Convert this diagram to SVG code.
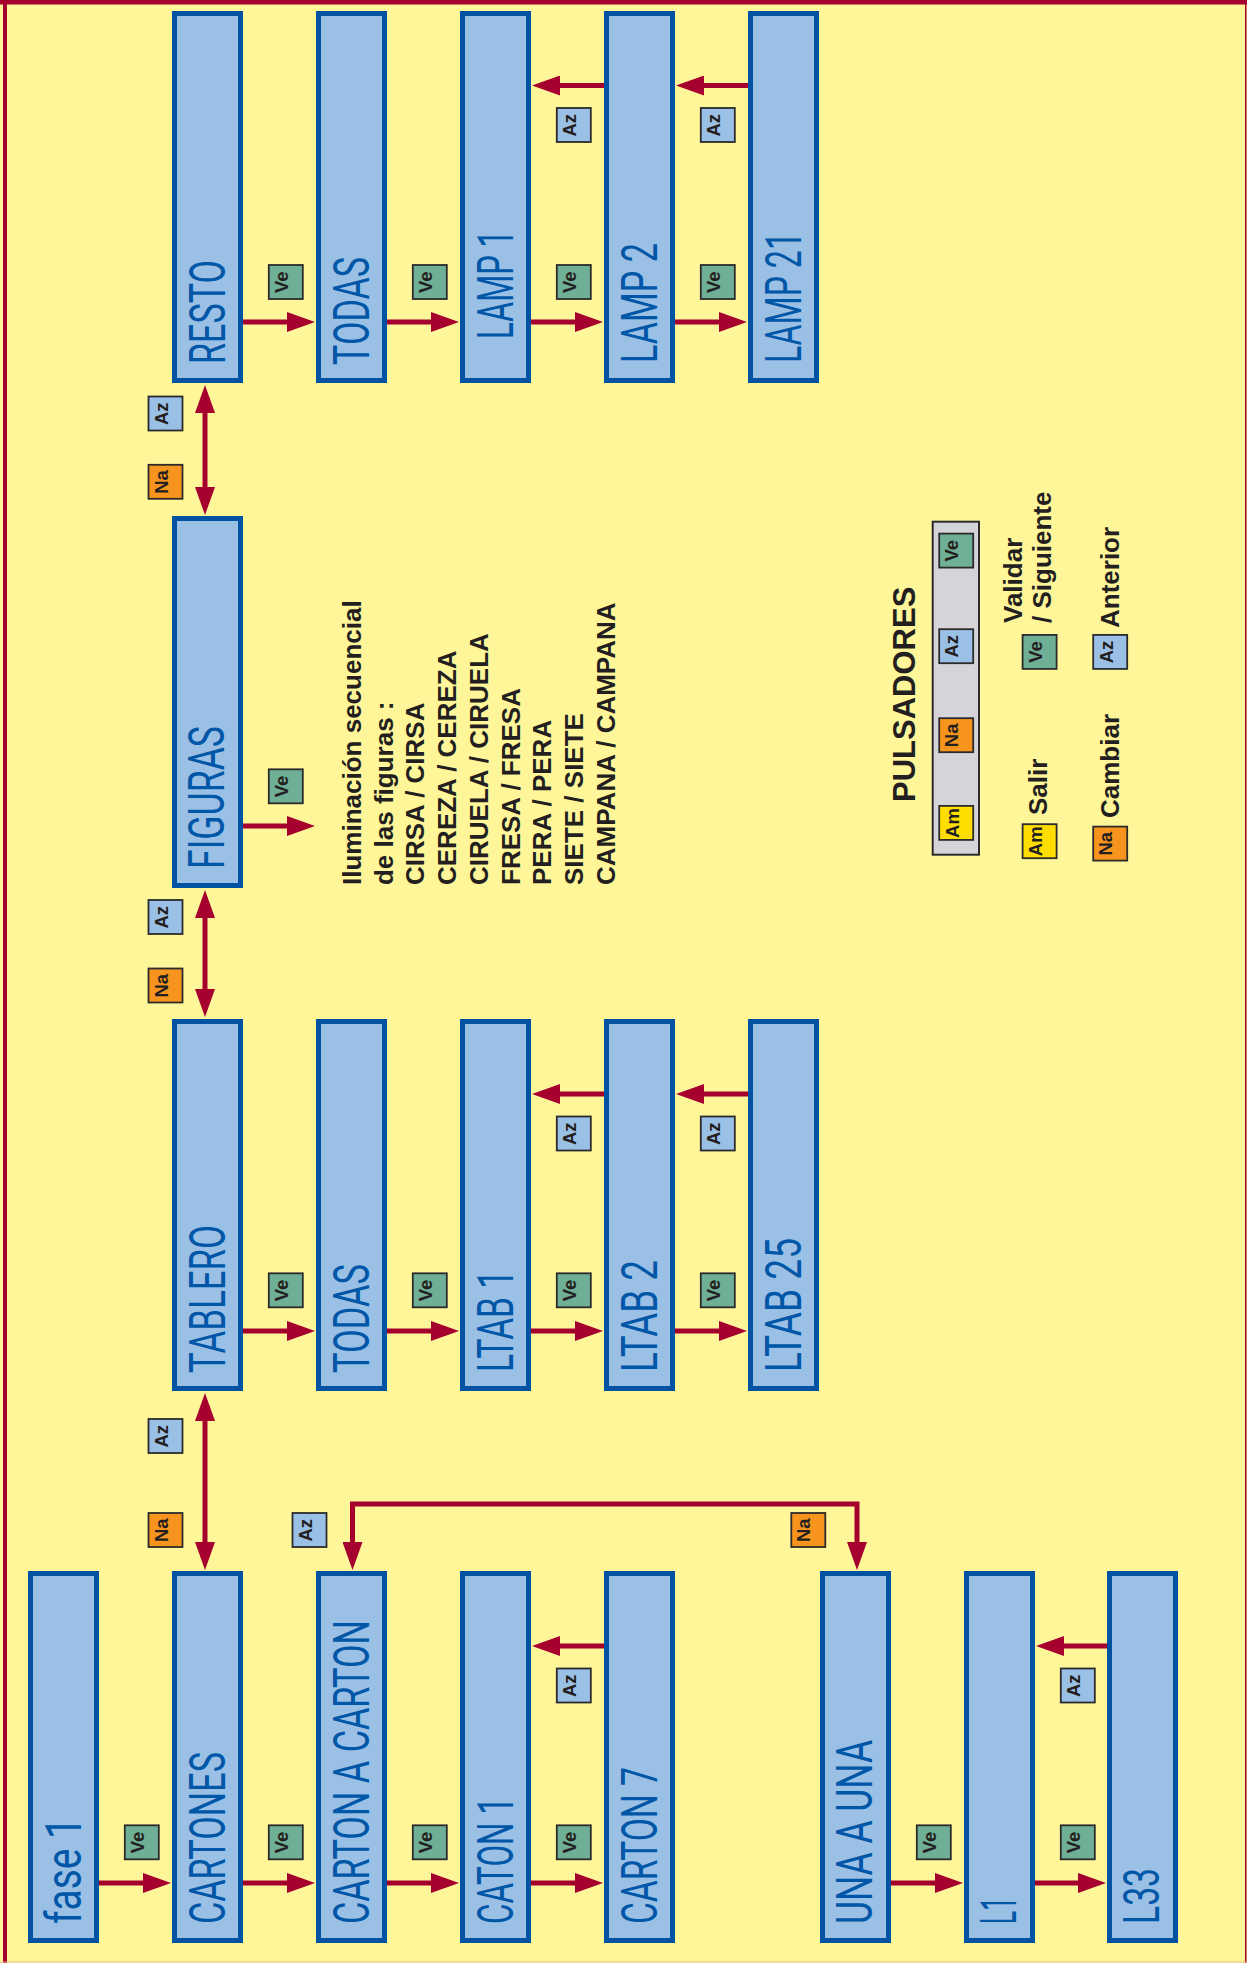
<svg xmlns="http://www.w3.org/2000/svg" width="1247" height="1963" viewBox="0 0 1247 1963">
<style>
.node{fill:#9BC0E6;stroke:#0052A3;stroke-width:5}
.nl{font-family:Roboto,"Liberation Sans",Arial,sans-serif;font-weight:400;font-size:50px;fill:#0057A8}
.con{fill:none;stroke:#A6002F;stroke-width:5}
.btn{stroke:#2B2B2B;stroke-width:1.8}
.ve{fill:#6FAF96}.az{fill:#9BC0E6}.na{fill:#F7941E}.am{fill:#FFDD00}
.bt{font-family:"Liberation Sans",Arial,sans-serif;font-weight:bold;font-size:18.5px;fill:#231F20;text-anchor:middle;baseline-shift:1.5px}
.tx{font-family:"Liberation Sans",Arial,sans-serif;font-weight:bold;font-size:26px;fill:#231F20}
</style>
<defs>
<marker id="ah" markerUnits="userSpaceOnUse" markerWidth="28" markerHeight="20" viewBox="0 -10 28 20" refX="2" refY="0" orient="auto-start-reverse">
<path d="M0,-10 L28,0 L0,10 z" fill="#A6002F"/>
</marker>
</defs>
<rect x="0" y="0" width="1247" height="1963" fill="#FFF69A"/>
<rect x="0" y="0" width="1247" height="4.5" fill="#A6002F"/>
<rect x="3" y="0" width="4" height="1963" fill="#A6002F"/>
<rect x="1245" y="0" width="1.5" height="1963" fill="#A6002F"/>
<rect x="0" y="1961.5" width="1247" height="1" fill="#F0B48A"/>

<!-- Nodes -->
<g id="fase1"><rect class="node" x="30.5" y="1573.5" width="66" height="367"/><text class="nl" x="81" y="1924" transform="rotate(-90 81 1924)" textLength="107" lengthAdjust="spacingAndGlyphs">fase 1</text></g>
<g id="cartones"><rect class="node" x="174.5" y="1573.5" width="66" height="367"/><text class="nl" x="225" y="1924" transform="rotate(-90 225 1924)" textLength="172" lengthAdjust="spacingAndGlyphs">CARTONES</text></g>
<g id="cartonacarton"><rect class="node" x="318.5" y="1573.5" width="66" height="367"/><text class="nl" x="369" y="1924" transform="rotate(-90 369 1924)" textLength="304" lengthAdjust="spacingAndGlyphs">CARTON A CARTON</text></g>
<g id="caton1"><rect class="node" x="462.5" y="1573.5" width="66" height="367"/><text class="nl" x="513" y="1924" transform="rotate(-90 513 1924)" textLength="127" lengthAdjust="spacingAndGlyphs">CATON 1</text></g>
<g id="carton7"><rect class="node" x="606.5" y="1573.5" width="66" height="367"/><text class="nl" x="657" y="1924" transform="rotate(-90 657 1924)" textLength="157" lengthAdjust="spacingAndGlyphs">CARTON 7</text></g>
<g id="unaauna"><rect class="node" x="822.5" y="1573.5" width="66" height="367"/><text class="nl" x="872" y="1924" transform="rotate(-90 872 1924)" textLength="184" lengthAdjust="spacingAndGlyphs">UNA A UNA</text></g>
<g id="l1"><rect class="node" x="966.5" y="1573.5" width="66" height="367"/><text class="nl" x="1016" y="1924" transform="rotate(-90 1016 1924)" textLength="27" lengthAdjust="spacingAndGlyphs">L1</text></g>
<g id="l33"><rect class="node" x="1109.5" y="1573.5" width="66" height="367"/><text class="nl" x="1159" y="1924" transform="rotate(-90 1159 1924)" textLength="56" lengthAdjust="spacingAndGlyphs">L33</text></g>

<g id="tablero"><rect class="node" x="174.5" y="1021.5" width="66" height="367"/><text class="nl" x="225" y="1373" transform="rotate(-90 225 1373)" textLength="148" lengthAdjust="spacingAndGlyphs">TABLERO</text></g>
<g id="todas2"><rect class="node" x="318.5" y="1021.5" width="66" height="367"/><text class="nl" x="369" y="1373" transform="rotate(-90 369 1373)" textLength="109" lengthAdjust="spacingAndGlyphs">TODAS</text></g>
<g id="ltab1"><rect class="node" x="462.5" y="1021.5" width="66" height="367"/><text class="nl" x="513" y="1372" transform="rotate(-90 513 1372)" textLength="102" lengthAdjust="spacingAndGlyphs">LTAB 1</text></g>
<g id="ltab2"><rect class="node" x="606.5" y="1021.5" width="66" height="367"/><text class="nl" x="657" y="1372" transform="rotate(-90 657 1372)" textLength="112" lengthAdjust="spacingAndGlyphs">LTAB 2</text></g>
<g id="ltab25"><rect class="node" x="750.5" y="1021.5" width="66" height="367"/><text class="nl" x="801" y="1372" transform="rotate(-90 801 1372)" textLength="134" lengthAdjust="spacingAndGlyphs">LTAB 25</text></g>

<g id="figuras"><rect class="node" x="174.5" y="518.5" width="66" height="367"/><text class="nl" x="224" y="869" transform="rotate(-90 224 869)" textLength="143" lengthAdjust="spacingAndGlyphs">FIGURAS</text></g>

<g id="resto"><rect class="node" x="174.5" y="13.5" width="66" height="367"/><text class="nl" x="225" y="364" transform="rotate(-90 225 364)" textLength="104" lengthAdjust="spacingAndGlyphs">RESTO</text></g>
<g id="todas1"><rect class="node" x="318.5" y="13.5" width="66" height="367"/><text class="nl" x="369" y="365" transform="rotate(-90 369 365)" textLength="108" lengthAdjust="spacingAndGlyphs">TODAS</text></g>
<g id="lamp1"><rect class="node" x="462.5" y="13.5" width="66" height="367"/><text class="nl" x="513" y="339" transform="rotate(-90 513 339)" textLength="109" lengthAdjust="spacingAndGlyphs">LAMP 1</text></g>
<g id="lamp2"><rect class="node" x="606.5" y="13.5" width="66" height="367"/><text class="nl" x="657" y="363" transform="rotate(-90 657 363)" textLength="120" lengthAdjust="spacingAndGlyphs">LAMP 2</text></g>
<g id="lamp21"><rect class="node" x="750.5" y="13.5" width="66" height="367"/><text class="nl" x="801" y="363" transform="rotate(-90 801 363)" textLength="131" lengthAdjust="spacingAndGlyphs">LAMP 21</text></g>

<!-- Connectors -->
<g id="connectors">
<g class="con" marker-end="url(#ah)">
<line x1="99" y1="1883" x2="145" y2="1883"/>
<line x1="243" y1="1883" x2="289" y2="1883"/>
<line x1="387" y1="1883" x2="433" y2="1883"/>
<line x1="531" y1="1883" x2="577" y2="1883"/>
<line x1="891" y1="1883" x2="937" y2="1883"/>
<line x1="1035" y1="1883" x2="1080" y2="1883"/>
<line x1="604" y1="1646" x2="558" y2="1646"/>
<line x1="1107" y1="1646" x2="1062" y2="1646"/>

<line x1="243" y1="1331" x2="289" y2="1331"/>
<line x1="387" y1="1331" x2="433" y2="1331"/>
<line x1="531" y1="1331" x2="577" y2="1331"/>
<line x1="675" y1="1331" x2="721" y2="1331"/>
<line x1="604" y1="1094" x2="558" y2="1094"/>
<line x1="748" y1="1094" x2="702" y2="1094"/>

<line x1="243" y1="826" x2="289" y2="826"/>

<line x1="243" y1="322" x2="289" y2="322"/>
<line x1="387" y1="322" x2="433" y2="322"/>
<line x1="531" y1="322" x2="577" y2="322"/>
<line x1="675" y1="322" x2="721" y2="322"/>
<line x1="604" y1="85.5" x2="558" y2="85.5"/>
<line x1="748" y1="85.5" x2="702" y2="85.5"/>
</g>
<g class="con" marker-start="url(#ah)" marker-end="url(#ah)">
<line x1="205" y1="411" x2="205" y2="489"/>
<line x1="205" y1="916" x2="205" y2="991"/>
<line x1="205" y1="1419" x2="205" y2="1544"/>
<path d="M352.5,1544 V1504 H857 V1544"/>
</g>
</g>

<!-- Button labels -->
<g id="labels">
<g id="ve-boxes">
<rect class="btn ve" x="124.8" y="1825.3" width="34" height="34"/><text class="bt" x="145.5" y="1842.5" transform="rotate(-90 145.5 1842.5)">Ve</text>
<rect class="btn ve" x="268.8" y="1825.3" width="34" height="34"/><text class="bt" x="289.5" y="1842.5" transform="rotate(-90 289.5 1842.5)">Ve</text>
<rect class="btn ve" x="412.8" y="1825.3" width="34" height="34"/><text class="bt" x="433.5" y="1842.5" transform="rotate(-90 433.5 1842.5)">Ve</text>
<rect class="btn ve" x="556.8" y="1825.3" width="34" height="34"/><text class="bt" x="577.5" y="1842.5" transform="rotate(-90 577.5 1842.5)">Ve</text>
<rect class="btn ve" x="916.8" y="1825.3" width="34" height="34"/><text class="bt" x="937.5" y="1842.5" transform="rotate(-90 937.5 1842.5)">Ve</text>
<rect class="btn ve" x="1060.8" y="1825.3" width="34" height="34"/><text class="bt" x="1081.5" y="1842.5" transform="rotate(-90 1081.5 1842.5)">Ve</text>

<rect class="btn ve" x="268.8" y="1273.3" width="34" height="34"/><text class="bt" x="289.5" y="1290.5" transform="rotate(-90 289.5 1290.5)">Ve</text>
<rect class="btn ve" x="412.8" y="1273.3" width="34" height="34"/><text class="bt" x="433.5" y="1290.5" transform="rotate(-90 433.5 1290.5)">Ve</text>
<rect class="btn ve" x="556.8" y="1273.3" width="34" height="34"/><text class="bt" x="577.5" y="1290.5" transform="rotate(-90 577.5 1290.5)">Ve</text>
<rect class="btn ve" x="700.8" y="1273.3" width="34" height="34"/><text class="bt" x="721.5" y="1290.5" transform="rotate(-90 721.5 1290.5)">Ve</text>

<rect class="btn ve" x="268.8" y="769.3" width="34" height="34"/><text class="bt" x="289.5" y="786.5" transform="rotate(-90 289.5 786.5)">Ve</text>

<rect class="btn ve" x="268.8" y="265" width="34" height="34"/><text class="bt" x="289.5" y="282.2" transform="rotate(-90 289.5 282.2)">Ve</text>
<rect class="btn ve" x="412.8" y="265" width="34" height="34"/><text class="bt" x="433.5" y="282.2" transform="rotate(-90 433.5 282.2)">Ve</text>
<rect class="btn ve" x="556.8" y="265" width="34" height="34"/><text class="bt" x="577.5" y="282.2" transform="rotate(-90 577.5 282.2)">Ve</text>
<rect class="btn ve" x="700.8" y="265" width="34" height="34"/><text class="bt" x="721.5" y="282.2" transform="rotate(-90 721.5 282.2)">Ve</text>
</g>
<g id="az-boxes">
<rect class="btn az" x="556.8" y="1668.5" width="34" height="34"/><text class="bt" x="577.5" y="1685.7" transform="rotate(-90 577.5 1685.7)">Az</text>
<rect class="btn az" x="1060.8" y="1668.5" width="34" height="34"/><text class="bt" x="1081.5" y="1685.7" transform="rotate(-90 1081.5 1685.7)">Az</text>
<rect class="btn az" x="556.8" y="1116.5" width="34" height="34"/><text class="bt" x="577.5" y="1133.7" transform="rotate(-90 577.5 1133.7)">Az</text>
<rect class="btn az" x="700.8" y="1116.5" width="34" height="34"/><text class="bt" x="721.5" y="1133.7" transform="rotate(-90 721.5 1133.7)">Az</text>
<rect class="btn az" x="556.8" y="108" width="34" height="34"/><text class="bt" x="577.5" y="125.2" transform="rotate(-90 577.5 125.2)">Az</text>
<rect class="btn az" x="700.8" y="108" width="34" height="34"/><text class="bt" x="721.5" y="125.2" transform="rotate(-90 721.5 125.2)">Az</text>

<rect class="btn az" x="148.5" y="396.5" width="34" height="34"/><text class="bt" x="169.2" y="413.7" transform="rotate(-90 169.2 413.7)">Az</text>
<rect class="btn az" x="148.5" y="900" width="34" height="34"/><text class="bt" x="169.2" y="917.2" transform="rotate(-90 169.2 917.2)">Az</text>
<rect class="btn az" x="148.5" y="1419" width="34" height="34"/><text class="bt" x="169.2" y="1436.2" transform="rotate(-90 169.2 1436.2)">Az</text>
<rect class="btn az" x="292.5" y="1513" width="34" height="34"/><text class="bt" x="313.2" y="1530.2" transform="rotate(-90 313.2 1530.2)">Az</text>
</g>
<g id="na-boxes">
<rect class="btn na" x="148.5" y="464.8" width="34" height="34"/><text class="bt" x="169.2" y="482" transform="rotate(-90 169.2 482)">Na</text>
<rect class="btn na" x="148.5" y="968.5" width="34" height="34"/><text class="bt" x="169.2" y="985.7" transform="rotate(-90 169.2 985.7)">Na</text>
<rect class="btn na" x="148.5" y="1513" width="34" height="34"/><text class="bt" x="169.2" y="1530.2" transform="rotate(-90 169.2 1530.2)">Na</text>
<rect class="btn na" x="791.3" y="1513" width="34" height="34"/><text class="bt" x="812" y="1530.2" transform="rotate(-90 812 1530.2)">Na</text>
</g>
</g>

<!-- Figuras description -->
<g id="figuras-text" class="tx">
<text x="361" y="885" transform="rotate(-90 361 885)">Iluminación secuencial</text>
<text x="392.7" y="885" transform="rotate(-90 392.7 885)">de las figuras :</text>
<text x="424.4" y="885" transform="rotate(-90 424.4 885)">CIRSA / CIRSA</text>
<text x="456.1" y="885" transform="rotate(-90 456.1 885)">CEREZA / CEREZA</text>
<text x="487.8" y="885" transform="rotate(-90 487.8 885)">CIRUELA / CIRUELA</text>
<text x="519.5" y="885" transform="rotate(-90 519.5 885)">FRESA / FRESA</text>
<text x="551.2" y="885" transform="rotate(-90 551.2 885)">PERA / PERA</text>
<text x="582.9" y="885" transform="rotate(-90 582.9 885)">SIETE / SIETE</text>
<text x="614.6" y="885" transform="rotate(-90 614.6 885)">CAMPANA / CAMPANA</text>
</g>

<!-- Legend -->
<g id="legend">
<text class="tx" style="font-size:31px" x="915" y="802" transform="rotate(-90 915 802)">PULSADORES</text>
<rect x="932.7" y="521.7" width="46.3" height="333" fill="#D5D5D9" stroke="#2B2B2B" stroke-width="2"/>
<rect class="btn ve" x="939.2" y="533.6" width="34" height="34"/><text class="bt" x="960" y="550.7" transform="rotate(-90 960 550.7)">Ve</text>
<rect class="btn az" x="939.2" y="629.2" width="34" height="34"/><text class="bt" x="960" y="646.3" transform="rotate(-90 960 646.3)">Az</text>
<rect class="btn na" x="939.2" y="718.2" width="34" height="34"/><text class="bt" x="960" y="735.3" transform="rotate(-90 960 735.3)">Na</text>
<rect class="btn am" x="939.2" y="805.9" width="34" height="34"/><text class="bt" x="960" y="823" transform="rotate(-90 960 823)">Am</text>

<rect class="btn ve" x="1022.6" y="634.9" width="34" height="34"/><text class="bt" x="1043.4" y="652" transform="rotate(-90 1043.4 652)">Ve</text>
<rect class="btn az" x="1093.2" y="634.9" width="34" height="34"/><text class="bt" x="1114" y="652" transform="rotate(-90 1114 652)">Az</text>
<rect class="btn am" x="1022.6" y="824.2" width="34" height="34"/><text class="bt" x="1043.4" y="841.3" transform="rotate(-90 1043.4 841.3)">Am</text>
<rect class="btn na" x="1093.2" y="826.6" width="34" height="34"/><text class="bt" x="1114" y="843.7" transform="rotate(-90 1114 843.7)">Na</text>

<text class="tx" x="1022" y="623" transform="rotate(-90 1022 623)">Validar</text>
<text class="tx" x="1051" y="623" transform="rotate(-90 1051 623)">/ Siguiente</text>
<text class="tx" x="1119" y="628" transform="rotate(-90 1119 628)">Anterior</text>
<text class="tx" x="1047" y="815" transform="rotate(-90 1047 815)">Salir</text>
<text class="tx" x="1119" y="818" transform="rotate(-90 1119 818)">Cambiar</text>
</g>
</svg>
